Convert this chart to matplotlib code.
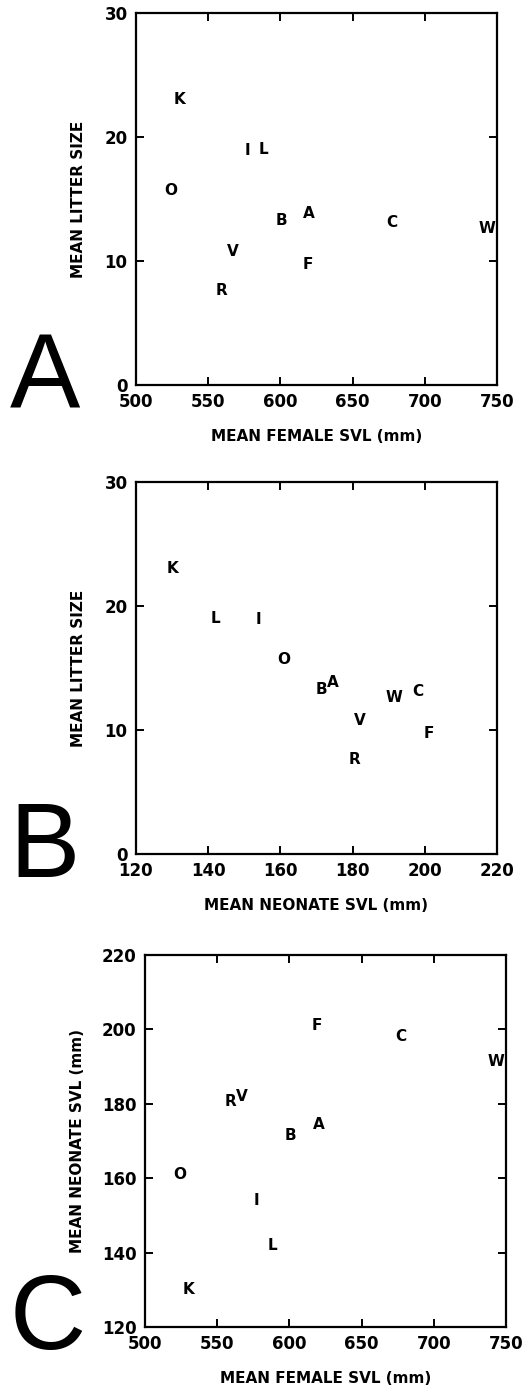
import matplotlib
matplotlib.use("Agg")
import matplotlib.pyplot as plt

# population codes and their means
codes = ["K", "I", "L", "O", "B", "A", "C", "W", "V", "F", "R"]
female_svl = [530, 577, 588, 524, 601, 620, 677, 743, 567, 619, 559]
neonate_svl = [130, 154, 142, 161, 171.5, 174.5, 198, 191.5, 182, 201, 180.5]
litter_size = [23.0, 18.9, 19.0, 15.7, 13.3, 13.8, 13.1, 12.6, 10.8, 9.7, 7.6]

plt.rcParams["font.family"] = "DejaVu Sans"
plt.rcParams["font.weight"] = "bold"

fig = plt.figure(figsize=(5.32, 13.9), dpi=100)


def panel(rect, xs, ys, xlim, ylim, xticks, yticks, xlabel, ylabel, letter, letter_y, ylab_x):
    ax = fig.add_axes(rect)
    for c, x, y in zip(codes, xs, ys):
        ax.text(x, y, c, ha="center", va="center", fontsize=11, fontweight="bold")
    ax.set_xlim(xlim)
    ax.set_ylim(ylim)
    ax.set_xticks(xticks)
    ax.set_yticks(yticks)
    ax.tick_params(direction="in", length=6, width=1.4, top=True, right=True,
                   labelsize=12, pad=6)
    for lab in ax.get_xticklabels() + ax.get_yticklabels():
        lab.set_fontweight("bold")
    for s in ax.spines.values():
        s.set_linewidth(1.6)
    ax.set_xlabel(xlabel, fontsize=11, fontweight="bold")
    ax.set_ylabel(ylabel, fontsize=11, fontweight="bold")
    ax.xaxis.set_label_coords(0.5, -0.118)
    ax.yaxis.set_label_coords(ylab_x, 0.5)
    fig.text(0.018, letter_y, letter, fontsize=76, fontweight="normal",
             family="Liberation Sans", ha="left", va="baseline")
    return ax


panel([0.2556, 0.7230, 0.6786, 0.2676], female_svl, litter_size,
      (500, 750), (0, 30), [500, 550, 600, 650, 700, 750], [0, 10, 20, 30],
      "MEAN FEMALE SVL (mm)", "MEAN LITTER SIZE", "A", 0.7065, -0.139)

panel([0.2556, 0.3856, 0.6786, 0.2676], neonate_svl, litter_size,
      (120, 220), (0, 30), [120, 140, 160, 180, 200, 220], [0, 10, 20, 30],
      "MEAN NEONATE SVL (mm)", "MEAN LITTER SIZE", "B", 0.369, -0.139)

panel([0.2726, 0.0453, 0.6786, 0.2676], female_svl, neonate_svl,
      (500, 750), (120, 220), [500, 550, 600, 650, 700, 750], [120, 140, 160, 180, 200, 220],
      "MEAN FEMALE SVL (mm)", "MEAN NEONATE SVL (mm)", "C", 0.0295, -0.166)

fig.savefig("out.png", dpi=100)
